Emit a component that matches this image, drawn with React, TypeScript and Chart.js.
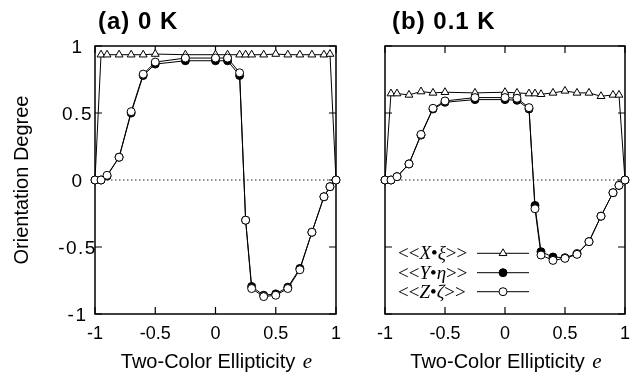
import React, { useEffect, useRef } from 'react';
import { Chart, registerables } from 'chart.js';

Chart.register(...registerables);

// ---- data ----
const ellipticity = [-1, -0.95, -0.9, -0.8, -0.7, -0.6, -0.5, -0.25, 0, 0.1, 0.2, 0.25, 0.3, 0.4, 0.5, 0.6, 0.7, 0.8, 0.9, 0.95, 1];

const xiA = [0, 0.935, 0.935, 0.935, 0.935, 0.935, 0.94, 0.935, 0.935, 0.935, 0.935, 0.935, 0.935, 0.935, 0.94, 0.935, 0.935, 0.935, 0.935, 0.94, 0];
const etaA = [0, 0, 0.03, 0.17, 0.5, 0.78, 0.865, 0.89, 0.89, 0.89, 0.78, -0.3, -0.795, -0.86, -0.85, -0.8, -0.66, -0.39, -0.125, -0.05, 0];
const zetaA = [0, 0, 0.035, 0.17, 0.51, 0.79, 0.88, 0.91, 0.91, 0.91, 0.8, -0.3, -0.81, -0.87, -0.86, -0.81, -0.67, -0.39, -0.125, -0.05, 0];

const xiB = [0, 0.645, 0.645, 0.635, 0.66, 0.65, 0.655, 0.65, 0.655, 0.65, 0.645, 0.645, 0.64, 0.65, 0.665, 0.65, 0.65, 0.625, 0.635, 0.635, 0];
const etaB = [0, 0, 0.025, 0.12, 0.335, 0.53, 0.58, 0.6, 0.6, 0.595, 0.53, -0.19, -0.535, -0.575, -0.58, -0.55, -0.46, -0.27, -0.095, -0.04, 0];
const zetaB = [0, 0, 0.025, 0.12, 0.34, 0.535, 0.59, 0.615, 0.615, 0.61, 0.54, -0.215, -0.56, -0.6, -0.585, -0.555, -0.46, -0.27, -0.095, -0.04, 0];

const xTickValues = [-1, -0.5, 0, 0.5, 1];
const yTickValues = [-1, -0.5, 0, 0.5, 1];
const yTickLabels = ['-1', '-0.5', '0', '0.5', '1'];

const titleA = '(a) 0 K';
const titleB = '(b) 0.1 K';
const yTitle = 'Orientation Degree';
const xTitleMain = 'Two-Color Ellipticity ';
const xTitleVar = 'e';
const legendEntries = [
  { parts: [['<<', 'r'], ['X', 'i'], ['\u2022', 'r'], ['\u03BE', 'i'], ['>>', 'r']], style: 'triangle' },
  { parts: [['<<', 'r'], ['Y', 'i'], ['\u2022', 'r'], ['\u03B7', 'i'], ['>>', 'r']], style: 'filled' },
  { parts: [['<<', 'r'], ['Z', 'i'], ['\u2022', 'r'], ['\u03B6', 'i'], ['>>', 'r']], style: 'open' },
];

const SANS = '"Liberation Sans", Arial, sans-serif';
const SERIF = '"Liberation Serif", "Times New Roman", serif';

const pts = (ys: number[]) => ellipticity.map((x, i) => ({ x, y: ys[i] }));

function makeDatasets(xi: number[], eta: number[], zeta: number[]) {
  const base = { showLine: true, borderColor: '#000', borderWidth: 1, clip: false as any, pointBorderColor: '#000', pointBorderWidth: 1 };
  return [
    { ...base, label: 'Z', data: pts(zeta), pointStyle: 'circle', pointRadius: 4, pointBackgroundColor: '#fff' },
    { ...base, label: 'Y', data: pts(eta), pointStyle: 'circle', pointRadius: 4, pointBackgroundColor: '#000' },
    { ...base, label: 'X', data: pts(xi), pointStyle: 'triangle', pointRadius: 4.5, pointBackgroundColor: '#fff' },
  ];
}

type PanelOpts = {
  title: string;
  titleX: number;
  showYLabels: boolean;
  showLegend: boolean;
  yAxisWidth: number;
  rightPad: number;
};

function framePlugin(o: PanelOpts) {
  return {
    id: 'frame',
    beforeDatasetsDraw(chart: any) {
      const ctx = chart.ctx as CanvasRenderingContext2D;
      const { left, right, top, bottom } = chart.chartArea;
      const xs = chart.scales.x;
      const ys = chart.scales.y;
      ctx.save();
      const y0 = ys.getPixelForValue(0);
      ctx.setLineDash([1.5, 2.5]);
      ctx.lineWidth = 1;
      ctx.strokeStyle = '#222';
      ctx.beginPath();
      ctx.moveTo(left, y0);
      ctx.lineTo(right, y0);
      ctx.stroke();
      ctx.setLineDash([]);
      ctx.lineWidth = 1.5;
      ctx.strokeStyle = '#000';
      ctx.strokeRect(left, top, right - left, bottom - top);
      ctx.lineWidth = 1.2;
      ctx.beginPath();
      for (const v of xTickValues) {
        const px = xs.getPixelForValue(v);
        ctx.moveTo(px, bottom);
        ctx.lineTo(px, bottom - 7);
        ctx.moveTo(px, top);
        ctx.lineTo(px, top + 7);
      }
      for (const v of yTickValues) {
        const py = ys.getPixelForValue(v);
        ctx.moveTo(left, py);
        ctx.lineTo(left + 7, py);
        ctx.moveTo(right, py);
        ctx.lineTo(right - 7, py);
      }
      ctx.stroke();
      ctx.restore();
    },
    afterDraw(chart: any) {
      const ctx = chart.ctx as CanvasRenderingContext2D;
      const { left, right } = chart.chartArea;
      const ys = chart.scales.y;
      ctx.save();
      ctx.fillStyle = '#000';
      // panel title
      ctx.font = `bold 24px ${SANS}`;
      (ctx as any).letterSpacing = '1px';
      ctx.textAlign = 'left';
      ctx.textBaseline = 'alphabetic';
      ctx.fillText(o.title, o.titleX, 29);
      (ctx as any).letterSpacing = '0px';
      // y tick labels
      if (o.showYLabels) {
        ctx.font = `19px ${SANS}`;
        (ctx as any).letterSpacing = '1.5px';
        ctx.textAlign = 'center';
        yTickValues.forEach((v, i) => {
          const py = ys.getPixelForValue(v);
          ctx.fillText(yTickLabels[i], 77.5, py + 7);
        });
        (ctx as any).letterSpacing = '0px';
        // y title
        ctx.font = `20px ${SANS}`;
        ctx.textAlign = 'center';
        ctx.translate(28, (chart.chartArea.top + chart.chartArea.bottom) / 2);
        ctx.rotate(-Math.PI / 2);
        ctx.fillText(yTitle, 0, 0);
        ctx.setTransform(1, 0, 0, 1, 0, 0);
      }
      // x title
      ctx.textAlign = 'left';
      ctx.font = `20px ${SANS}`;
      const w1 = ctx.measureText(xTitleMain).width;
      ctx.font = `italic 21px ${SERIF}`;
      const w2 = ctx.measureText(xTitleVar).width;
      const cx = (left + right) / 2;
      const sx = cx - (w1 + w2) / 2;
      ctx.font = `20px ${SANS}`;
      ctx.fillText(xTitleMain, sx, 368);
      ctx.font = `italic 21px ${SERIF}`;
      ctx.fillText(xTitleVar, sx + w1 + 2, 368);
      // legend
      if (o.showLegend) {
        const rowsY = [253.3, 272.7, 291.7];
        legendEntries.forEach((e, i) => {
          const cy = rowsY[i];
          let x = 48;
          for (const [txt, st] of e.parts) {
            ctx.font = st === 'i' ? `italic 19px ${SERIF}` : `19px ${SERIF}`;
            ctx.fillText(txt, x, cy + 6);
            x += ctx.measureText(txt).width;
          }
          ctx.lineWidth = 1;
          ctx.strokeStyle = '#000';
          ctx.beginPath();
          ctx.moveTo(127, cy);
          ctx.lineTo(179, cy);
          ctx.stroke();
          const mx = 153;
          ctx.beginPath();
          if (e.style === 'triangle') {
            const r = 4.5;
            for (let k = 0; k < 3; k++) {
              const a = (k * 2 * Math.PI) / 3;
              const px = mx + Math.sin(a) * r;
              const py = cy - Math.cos(a) * r;
              if (k === 0) ctx.moveTo(px, py); else ctx.lineTo(px, py);
            }
            ctx.closePath();
            ctx.fillStyle = '#fff';
          } else {
            ctx.arc(mx, cy, 4, 0, Math.PI * 2);
            ctx.fillStyle = e.style === 'filled' ? '#000' : '#fff';
          }
          ctx.fill();
          ctx.stroke();
          ctx.fillStyle = '#000';
        });
      }
      ctx.restore();
    },
  };
}

function makeConfig(o: PanelOpts, xi: number[], eta: number[], zeta: number[]): any {
  return {
    type: 'scatter',
    data: { datasets: makeDatasets(xi, eta, zeta) },
    options: {
      animation: false,
      responsive: false,
      devicePixelRatio: 1,
      layout: { padding: { left: 0, right: o.rightPad, top: 46, bottom: 0 } },
      plugins: { legend: { display: false }, tooltip: { enabled: false }, title: { display: false } },
      scales: {
        x: {
          type: 'linear',
          min: -1,
          max: 1,
          grid: { display: false, drawTicks: false },
          border: { display: false },
          ticks: {
            stepSize: 0.5,
            padding: 9,
            color: '#000',
            font: { family: SANS, size: 18 },
            maxRotation: 0,
            callback: (v: number) => String(v),
          },
          afterFit: (s: any) => { s.height = 62; },
        },
        y: {
          type: 'linear',
          min: -1,
          max: 1,
          grid: { display: false, drawTicks: false },
          border: { display: false },
          ticks: { display: false, stepSize: 0.5 },
          afterFit: (s: any) => { s.width = o.yAxisWidth; },
        },
      },
    },
    plugins: [framePlugin(o)],
  };
}

function Panel(props: { left: number; width: number; opts: PanelOpts; xi: number[]; eta: number[]; zeta: number[] }) {
  const ref = useRef<HTMLCanvasElement>(null);
  useEffect(() => {
    const chart = new Chart(ref.current!, makeConfig(props.opts, props.xi, props.eta, props.zeta));
    return () => chart.destroy();
  }, []);
  return (
    <canvas
      ref={ref}
      width={props.width}
      height={376}
      style={{ position: 'absolute', left: props.left, top: 0, width: props.width, height: 376, display: 'block' }}
    />
  );
}

export default function App() {
  return (
    <div style={{ position: 'absolute', left: 0, top: 0, width: 639, height: 376, background: '#fff', overflow: 'hidden' }}>
      <Panel
        left={0}
        width={350}
        opts={{ title: titleA, titleX: 98, showYLabels: true, showLegend: false, yAxisWidth: 95, rightPad: 8 }}
        xi={xiA}
        eta={etaA}
        zeta={zetaA}
      />
      <Panel
        left={350}
        width={289}
        opts={{ title: titleB, titleX: 42, showYLabels: false, showLegend: true, yAxisWidth: 35, rightPad: 7 }}
        xi={xiB}
        eta={etaB}
        zeta={zetaB}
      />
    </div>
  );
}
